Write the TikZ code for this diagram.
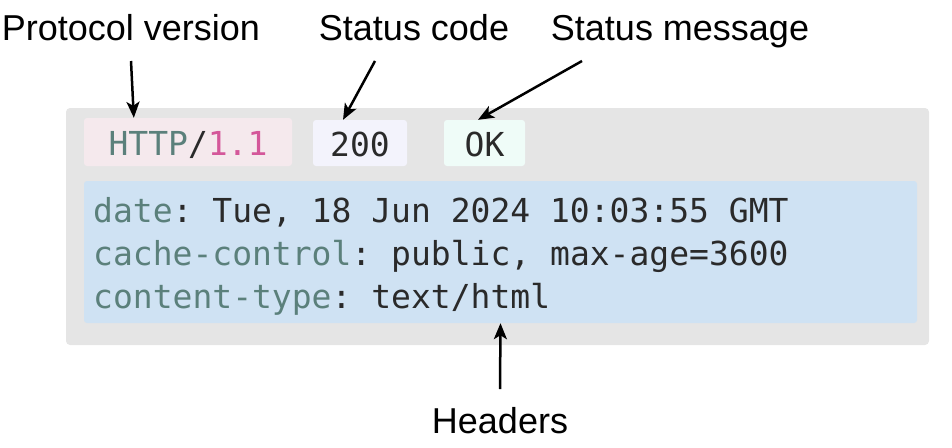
\documentclass[tikz,border=0pt]{standalone}
\usepackage{fontspec}
\setmainfont{Liberation Sans}
\setmonofont{DejaVu Sans Mono}
\usepackage{tikz}
\usetikzlibrary{arrows.meta,calc}

\definecolor{panelgray}{HTML}{E5E5E5}
\definecolor{verfill}{HTML}{F5E9ED}
\definecolor{codefill}{HTML}{F3F3FC}
\definecolor{okfill}{HTML}{EFFCF8}
\definecolor{hdrfill}{HTML}{CFE2F3}
\definecolor{keyc}{HTML}{5B807B}
\definecolor{numc}{HTML}{D4579A}
\definecolor{valc}{HTML}{2A2A2A}

\begin{document}
\begin{tikzpicture}[x=1pt,y=-1pt,
  tag/.style={font=\fontsize{36pt}{40pt}\selectfont,anchor=base,inner sep=0pt},
  mono/.style={font=\ttfamily\fontsize{33pt}{40pt}\selectfont,text=valc,inner sep=0pt},
  field/.style={mono,rounded corners=3pt,text height=26pt,text depth=0pt},
  pointer/.style={-{Stealth[length=16pt,width=13pt,inset=4pt]},line width=2.5pt}]
\useasboundingbox (0,0) rectangle (952,447);
\node (msg) [fill=panelgray, rounded corners=4pt, inner sep=0pt, minimum width=863pt, minimum height=237pt] at (497.5,226.5) {};
\node[field] (ver) [fill=verfill, minimum width=208pt, minimum height=48pt] at (188,142) {\textcolor{keyc}{HTTP}/\textcolor{numc}{1.1}};
\node[field] (code) [fill=codefill, minimum width=94pt, minimum height=46pt] at (360,143) {200};
\node[field] (ok) [fill=okfill, minimum width=81pt, minimum height=46pt] at (484.5,143) {OK};
\node (hdr) [fill=hdrfill, rounded corners=3pt, inner sep=0pt, minimum width=833pt, minimum height=142pt] at (500.5,252) {};
\node[mono, anchor=base west] (l1) at (93,222) {\textcolor{keyc}{date}: Tue, 18 Jun 2024 10:03:55 GMT};
\node[mono, anchor=base west] (l2) at (93,265) {\textcolor{keyc}{cache-control}: public, max-age=3600};
\node[mono, anchor=base west] (l3) at (93,308) {\textcolor{keyc}{content-type}: text/html};
% labels
\node[tag] (proto) at (131,40) {Protocol version};
\node[tag] (scode) at (414,40) {Status code};
\node[tag] (smsg) at (680,40) {Status message};
\node[tag] (hlabel) at (500,433) {Headers};
\coordinate (protoT) at (131,61);
\coordinate (scodeT) at (375,61);
\coordinate (smsgT) at (582,61);
\coordinate (hlabelT) at (500,389);
\draw[pointer] (protoT) -- ($(ver.north west)!0.24!(ver.north east)$);
\draw[pointer] (scodeT) -- ($(code.north west)!0.32!(code.north east)$);
\draw[pointer] (smsgT) -- ($(ok.north west)!0.42!(ok.north east)$);
\draw[pointer] (hlabelT) -- (hdr.south);
\end{tikzpicture}
\end{document}
